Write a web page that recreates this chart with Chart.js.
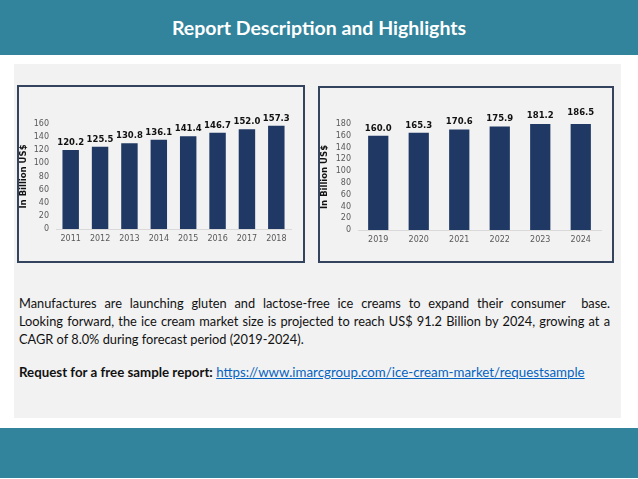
<!DOCTYPE html>
<html>
<head>
<meta charset="utf-8">
<script src="https://cdn.jsdelivr.net/npm/chart.js@4"></script>
<style>
  body { margin: 0; width: 638px; height: 479px; background: #fff; position: relative; overflow: hidden; font-family: Lato, "Noto Sans", sans-serif; }
  .bar-top { position: absolute; left: 0; top: 0; width: 638px; height: 55px; background: #31849b; }
  .bar-top h1 { margin: 0; line-height: 55px; text-align: center; color: #fff; font-size: 19.5px; font-weight: bold; }
  .panel { position: absolute; left: 14px; top: 64px; width: 607px; height: 354px; background: #f2f2f2; }
  .footer { position: absolute; left: 0; top: 428px; width: 638px; height: 50px; background: #31849b; }
  .box { position: absolute; box-sizing: border-box; border: 2px solid #34435e; }
  .box canvas { position: absolute; left: 0; top: 0; }
  .line { position: absolute; left: 19px; width: 591px; font-size: 12.8px; line-height: 18px; color: #111; white-space: nowrap; }
  .just { text-align: justify; text-align-last: justify; }
  .req { font-size: 13.3px; }
  a { color: #0563c1; }
</style>
</head>
<body>
<div class="bar-top"><h1>Report Description and Highlights</h1></div>
<div class="panel"></div>

<div class="box" style="left:17px; top:85px; width:288px; height:178px;">
  <canvas id="hist-canvas" width="284" height="174" style="width:284px;height:174px"></canvas>
</div>
<div class="box" style="left:318px; top:86px; width:296px; height:177px;">
  <canvas id="fcst-canvas" width="292" height="173" style="width:292px;height:173px"></canvas>
</div>

<div class="line just" style="top:294px;">Manufactures are launching gluten and lactose-free ice creams to expand their consumer&nbsp; base.</div>
<div class="line just" style="top:312px;">Looking forward, the ice cream market size is projected to reach US$ 91.2 Billion by 2024, growing at a</div>
<div class="line" style="top:330px;">CAGR of 8.0% during forecast period (2019-2024).</div>
<div class="line req" style="top:363px;"><b>Request for a free sample report:</b> <a href="#">https://www.imarcgroup.com/ice-cream-market/requestsample</a></div>

<div class="footer"></div>

<script>
// Historical market size (2011-2018)
const histYears = ['2011', '2012', '2013', '2014', '2015', '2016', '2017', '2018'];
const histValues = [120.2, 125.5, 130.8, 136.1, 141.4, 146.7, 152.0, 157.3];

// Forecast market size (2019-2024)
const fcstYears = ['2019', '2020', '2021', '2022', '2023', '2024'];
const fcstValues = [160.0, 165.3, 170.6, 175.9, 181.2, 186.5];

const BAR_COLOR = '#203864';
const TICK_COLOR = '#595959';
const FONT = 'DejaVu Sans';

// Value labels above each bar
const valueLabels = {
    id: 'valueLabels',
    afterDatasetsDraw(chart) {
        const ctx = chart.ctx;
        const values = chart.data.datasets[0].data;
        ctx.save();
        ctx.font = 'bold 8.5px "' + FONT + '"';
        ctx.fillStyle = '#111';
        ctx.textAlign = 'center';
        ctx.textBaseline = 'bottom';
        chart.getDatasetMeta(0).data.forEach((bar, i) => {
            ctx.fillText(values[i].toFixed(1), bar.x, bar.y - 3);
        });
        ctx.restore();
    }
};

/**
 * Build one bar chart
 */
function makeChart(id, labels, values, yMax, opt) {
    const ctx = document.getElementById(id).getContext('2d');
    return new Chart(ctx, {
        type: 'bar',
        data: {
            labels: labels,
            datasets: [{
                data: values,
                backgroundColor: BAR_COLOR,
                barPercentage: opt.barPct,
                categoryPercentage: 1
            }]
        },
        options: {
            responsive: false,
            animation: false,
            layout: { padding: { top: opt.top, right: opt.right, left: 0, bottom: 0 } },
            plugins: { legend: { display: false }, tooltip: { enabled: false } },
            scales: {
                x: {
                    grid: { display: false, drawTicks: false },
                    border: { display: true, color: '#d9d9d9', width: 1 },
                    ticks: { color: TICK_COLOR, font: { family: FONT, size: 8 }, padding: 5 },
                    afterFit: (s) => { s.height = opt.xh; }
                },
                y: {
                    min: 0,
                    max: yMax,
                    grid: { display: false, drawTicks: false },
                    border: { display: false },
                    ticks: { stepSize: 20, autoSkip: false, color: TICK_COLOR, font: { family: FONT, size: 8 }, padding: 7 },
                    title: {
                        display: true,
                        text: 'In Billion US$',
                        color: '#111',
                        font: { family: FONT, size: 8.5, weight: 'bold' },
                        padding: { top: 0, bottom: 0 }
                    },
                    afterFit: (s) => { s.width = opt.yw; }
                }
            }
        },
        plugins: [valueLabels]
    });
}

makeChart('hist-canvas', histYears, histValues, 160, { top: 37, right: 12, xh: 32, yw: 37, barPct: 0.56 });
makeChart('fcst-canvas', fcstYears, fcstValues, 180, { top: 36, right: 11, xh: 31, yw: 38, barPct: 0.5 });
</script>
</body>
</html>
